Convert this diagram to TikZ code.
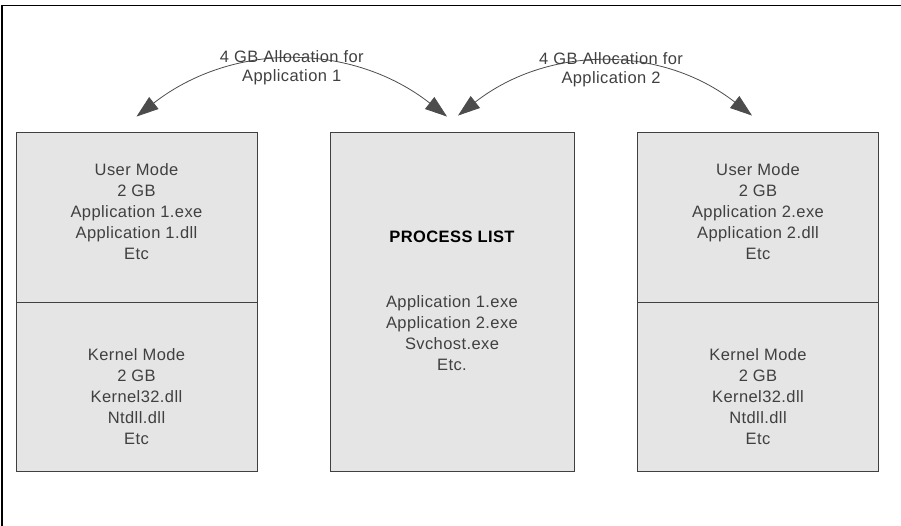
\documentclass[tikz,border=0pt]{standalone}
\usepackage{fontspec}
\setmainfont[LetterSpace=2.5]{Liberation Sans}
\usepackage{tikz}
\usetikzlibrary{shapes, arrows.meta}

\tikzset{
membox/.style={draw=black!75, fill=black!10, line width=0.9pt, minimum width=241pt, inner sep=0pt},
memtext/.style={align=center, text=black!75, font=\fontsize{16.5}{21}\selectfont},
alloctext/.style={align=center, text=black!75, font=\fontsize{16.5}{19}\selectfont},
alloc/.style={black!70, line width=0.8pt, {Triangle[length=22pt, width=15pt]}-{Triangle[length=22pt, width=15pt]}}
}

\begin{document}
\begin{tikzpicture}[x=1pt, y=-1pt]
\useasboundingbox (0,0) rectangle (901,526);

\draw[line width=1.5pt] (2,526) -- (2,5.5) -- (901,5.5);

\foreach \x/\n in {136.5/1, 758/2} {
\node[membox, minimum height=170pt] (user\n) at (\x, 217) {};
\node[membox, minimum height=169pt] (kern\n) at (\x, 386.5) {};
\node[memtext] (usertxt\n) at (\x, 212) {User Mode\\2 GB\\Application \n.exe\\Application \n.dll\\Etc};
\node[memtext] (kerntxt\n) at (\x, 397) {Kernel Mode\\2 GB\\Kernel32.dll\\Ntdll.dll\\Etc};
}

\node[membox, minimum width=244pt, minimum height=339pt] (plist) at (452, 301.5) {};
\node[memtext, text=black, font=\fontsize{16.5}{21}\selectfont\bfseries] (plisttitle) at (452, 237) {PROCESS LIST};
\node[memtext] (plisttxt) at (452, 333.5) {Application 1.exe\\Application 2.exe\\Svchost.exe\\Etc.};

\coordinate (tip1a) at ([yshift=15pt]user1.north);
\coordinate (tip1b) at ([xshift=-5pt, yshift=15pt]plist.north);
\coordinate (tip2a) at ([xshift=6pt, yshift=16pt]plist.north);
\coordinate (tip2b) at ([xshift=-6pt, yshift=16pt]user2.north);

\draw[alloc] (tip1a) to[bend left=38] node[alloctext, midway, yshift=-7pt] (alloc1) {4 GB Allocation for\\Application 1} (tip1b);
\draw[alloc] (tip2a) to[bend left=38] node[alloctext, midway, xshift=6pt, yshift=-7pt] (alloc2) {4 GB Allocation for\\Application 2} (tip2b);

\end{tikzpicture}
\end{document}
